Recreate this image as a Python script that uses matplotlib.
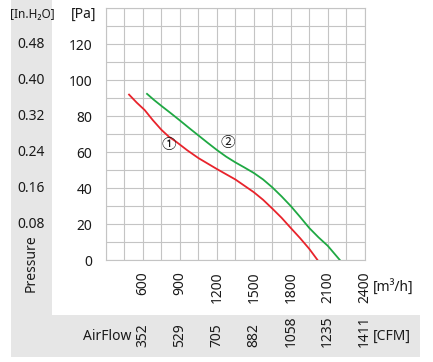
import matplotlib
matplotlib.use('Agg')
import matplotlib.pyplot as plt
from matplotlib.patches import Rectangle
import matplotlib.transforms as mtrans

# ---- data ----
flow_ticks = [600, 900, 1200, 1500, 1800, 2100, 2400]
cfm_labels = ['352', '529', '705', '882', '1058', '1235', '1411']
pa_ticks = [0, 20, 40, 60, 80, 100, 120]
inh2o_pos = [20, 40, 60, 80, 100, 120]
inh2o_labels = ['0.08', '0.16', '0.24', '0.32', '0.40', '0.48']

c1_x = [487, 550, 614, 680, 750, 810, 871, 960, 1050, 1200, 1350, 1500, 1575, 1650, 1725, 1800, 1875, 1950, 2017]
c1_y = [92, 87.5, 83.4, 77.8, 72.4, 68.6, 65.7, 61.0, 56.7, 50.6, 44.8, 37.7, 33.5, 28.6, 23.5, 17.8, 12.2, 6.2, 0]
c2_x = [633, 690, 750, 825, 900, 975, 1050, 1125, 1200, 1275, 1350, 1425, 1500, 1575, 1650, 1725, 1800, 1875, 1950, 2025, 2100, 2198]
c2_y = [92.4, 89.0, 85.7, 81.7, 77.6, 73.4, 69.3, 65.2, 61.2, 57.5, 54.3, 51.4, 48.4, 44.8, 40.4, 35.4, 30, 24.0, 17.8, 12.6, 7.9, 0]
curve_labels = ['①', '②']
curve_label_x = [811, 1285]
curve_label_y = [63.9, 64.8]

W, H = 433, 362
plt.rcParams['font.family'] = ['Noto Sans', 'DejaVu Sans']
FS = 10
TXT = '#1a1a1a'
GRID = '#c4c4c4'
BAND = '#e6e6e6'

fig = plt.figure(figsize=(W / 100, H / 100), dpi=100)
fig.patch.set_facecolor('white')

def fx(px):
    return px / W

def fy(py):
    return (H - py) / H

# gray bands
fig.add_artist(Rectangle((fx(11), fy(315)), fx(52) - fx(11), fy(0) - fy(315),
                         transform=fig.transFigure, facecolor=BAND, edgecolor='none', zorder=0))
fig.add_artist(Rectangle((fx(11), fy(357)), fx(420) - fx(11), fy(315) - fy(357),
                         transform=fig.transFigure, facecolor=BAND, edgecolor='none', zorder=0))

ax = fig.add_axes([fx(106), fy(260), fx(364.7) - fx(106), fy(8.3) - fy(260)])
ax.set_facecolor('white')
ax.set_xlim(300, 2400)
ax.set_ylim(0, 140)

ax.set_xticks(flow_ticks)
ax.set_xticklabels([str(v) for v in flow_ticks], rotation=90, fontsize=FS, color=TXT)
ax.set_xticks(list(range(300, 2401, 150)), minor=True)
ax.set_yticks(pa_ticks)
ax.set_yticklabels([str(v) for v in pa_ticks], fontsize=FS, color=TXT)
ax.set_yticks(list(range(0, 141, 10)), minor=True)
ax.tick_params(which='both', length=0)
ax.tick_params(axis='x', pad=8)
ax.tick_params(axis='y', pad=10)
ax.grid(which='both', color=GRID, linewidth=0.8)
ax.set_axisbelow(True)
for s in ax.spines.values():
    s.set_color(GRID)
    s.set_linewidth(0.8)

ax.plot(c1_x, c1_y, color='#e8232b', linewidth=1.3, zorder=3)
ax.plot(c2_x, c2_y, color='#1fa843', linewidth=1.3, zorder=3)
for lab, x, y in zip(curve_labels, curve_label_x, curve_label_y):
    ax.text(x, y, lab, fontsize=10.5, ha='center', va='center', color=TXT,
            family=['Noto Sans CJK SC', 'DejaVu Sans'], zorder=4)

# left inH2O column
bt = mtrans.blended_transform_factory(fig.transFigure, ax.transData)
for v, lab in zip(inh2o_pos, inh2o_labels):
    fig.text(fx(31.5), v, lab, transform=bt, fontsize=FS, color=TXT, ha='center', va='center')

fig.text(fx(32), fy(14), '[In.H₂O]', fontsize=FS - 1.5, color=TXT, ha='center', va='center')
fig.text(fx(84), fy(14), '[Pa]', fontsize=FS, color=TXT, ha='center', va='center')
fig.text(fx(31), fy(263), 'Pressure', fontsize=FS, color=TXT, ha='center', va='center', rotation=90)

# CFM row
bx = mtrans.blended_transform_factory(ax.transData, fig.transFigure)
for v, lab in zip(flow_ticks, cfm_labels):
    fig.text(v, fy(347), lab, transform=bx, fontsize=FS, color=TXT,
             ha='center', va='bottom', rotation=90)

fig.text(fx(131), fy(337), 'AirFlow', fontsize=FS, color=TXT, ha='right', va='center')
fig.text(fx(373), fy(288), '[m³/h]', fontsize=FS, color=TXT, ha='left', va='center')
fig.text(fx(373), fy(336), '[CFM]', fontsize=FS, color=TXT, ha='left', va='center')

fig.savefig('out.png', dpi=100, facecolor='white')
